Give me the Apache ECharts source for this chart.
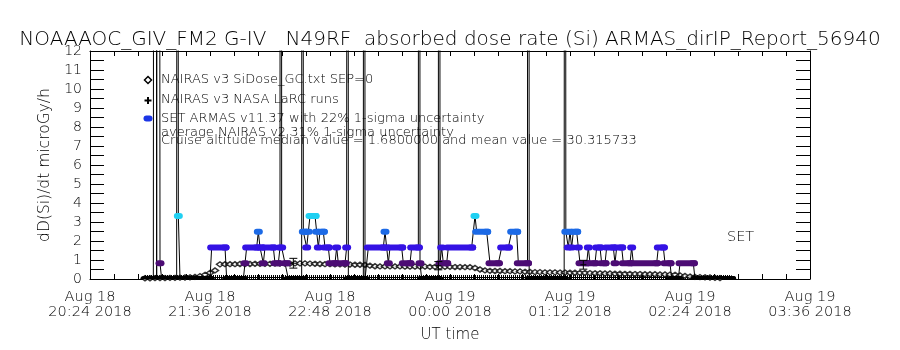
<!DOCTYPE html>
<html><head><meta charset="utf-8">
<script src="https://cdn.jsdelivr.net/npm/echarts@6/dist/echarts.min.js"></script>
<style>html,body{margin:0;padding:0;background:#fff}#c{width:900px;height:350px}</style>
</head><body><div id="c"></div>
<script>
// ---------------- texts ----------------
const titleText = 'NOAAAOC_GIV_FM2 G-IV   N49RF  absorbed dose rate (Si) ARMAS_dirIP_Report_56940';
const yAxisTitle = 'dD(Si)/dt microGy/h';
const xAxisTitle = 'UT time';
const xTickLabels = ['Aug 18\n20:24 2018','Aug 18\n21:36 2018','Aug 18\n22:48 2018','Aug 19\n00:00 2018','Aug 19\n01:12 2018','Aug 19\n02:24 2018','Aug 19\n03:36 2018'];
const yTickLabels = ['0','1','2','3','4','5','6','7','8','9','10','11','12'];
const legendTexts = [
  'NAIRAS v3 SiDose_GC.txt SEP=0',
  'NAIRAS v3 NASA LaRC runs',
  'SET ARMAS v11.37 with 22% 1-sigma uncertainty',
  'average NAIRAS v2 31% 1-sigma uncertainty',
  'Cruise altitude median value = 1.6800000 and mean value = 30.315733'
];
const setLabel = 'SET';

// ---------------- data ----------------
// NAIRAS v3 SiDose (diamonds)
const nairasTime = ['20:57','21:00','21:03','21:06','21:09','21:12','21:15','21:18','21:21','21:24','21:27','21:30','21:33','21:36','21:39','21:42','21:45','21:48','21:51','21:54','21:57','22:00','22:03','22:06','22:09','22:12','22:15','22:18','22:21','22:24','22:27','22:30','22:33','22:36','22:39','22:42','22:45','22:48','22:51','22:54','22:57','23:00','23:03','23:06','23:09','23:12','23:15','23:18','23:21','23:24','23:27','23:30','23:33','23:36','23:39','23:42','23:45','23:48','23:51','23:54','23:57','00:00','00:03','00:06','00:09','00:12','00:15','00:18','00:21','00:24','00:27','00:30','00:33','00:36','00:39','00:42','00:45','00:48','00:51','00:54','00:57','01:00','01:03','01:06','01:09','01:12','01:15','01:18','01:21','01:24','01:27','01:30','01:33','01:36','01:39','01:42','01:45','01:48','01:51','01:54','01:57','02:00','02:03','02:06','02:09','02:12','02:15','02:18','02:21','02:24','02:27','02:30','02:33','02:36','02:39','02:42'];
const nairasDose = [0.04,0.04,0.05,0.05,0.05,0.06,0.06,0.07,0.08,0.09,0.11,0.15,0.22,0.32,0.45,0.77,0.78,0.78,0.78,0.79,0.79,0.79,0.80,0.80,0.80,0.80,0.81,0.81,0.81,0.81,0.82,0.82,0.82,0.81,0.80,0.79,0.78,0.78,0.77,0.77,0.76,0.76,0.75,0.75,0.74,0.70,0.67,0.66,0.66,0.66,0.66,0.66,0.65,0.65,0.65,0.65,0.65,0.64,0.64,0.64,0.64,0.64,0.63,0.63,0.62,0.62,0.58,0.50,0.45,0.43,0.42,0.42,0.41,0.41,0.40,0.40,0.38,0.37,0.36,0.36,0.35,0.35,0.35,0.34,0.34,0.33,0.33,0.32,0.32,0.31,0.30,0.30,0.29,0.29,0.28,0.28,0.27,0.27,0.26,0.26,0.25,0.25,0.25,0.24,0.24,0.23,0.22,0.19,0.16,0.13,0.11,0.10,0.09,0.08,0.06,0.05];

// NAIRAS v3 NASA LaRC runs (+) with average NAIRAS v2 31% 1-sigma uncertainty
const larcTime = ['22:26','23:53','01:20'];
const larcDose = [0.83, 0.70, 0.75];
const larcSigma = 0.31;

// zero-dose sample floor along the flight
const floorTime = ['20:57','02:49'];
const floorDose = [0, 0];

// SET ARMAS v11.37 (values above 12 are off-scale spikes)
const armasTime = ['20:57','21:02','21:03','21:04','21:05','21:06','21:07','21:16','21:16:30','21:17','21:18','21:36','21:37','21:45','21:46','21:56','21:57','21:58','22:04','22:05','22:06','22:07','22:08','22:09','22:14','22:15','22:17','22:18','22:18:30','22:19','22:21','22:22','22:23','22:31','22:31:30','22:32','22:33','22:34','22:35','22:36','22:39','22:40','22:41','22:42','22:44','22:45','22:47','22:48','22:51','22:52','22:53','22:57','22:58','22:58:30','22:59','23:08','23:08:30','23:09','23:11','23:20','23:21','23:22','23:23','23:24','23:31','23:32','23:36','23:37','23:41','23:41:30','23:42','23:43','23:53','23:53:30','23:54','23:55','23:56','23:58','23:59','00:13','00:15','00:16','00:22','00:24','00:29','00:31','00:35','00:37','00:40','00:41','00:46:30','00:47','00:47:30','01:08:30','01:09','01:09:30','01:11','01:12','01:13','01:14','01:16','01:17','01:18','01:22','01:23','01:24','01:27','01:28','01:30','01:31','01:33','01:34','01:38','01:39','01:40','01:43','01:44','01:48','01:49','01:50','02:04','02:05','02:08','02:09','02:12','02:13','02:17','02:18','02:26','02:27','02:49'];
const armasDose = [0,0,150,0,120,0.83,0,0,90,3.32,0,0,1.66,1.66,0,0,0.83,1.66,1.66,2.49,1.66,1.66,0.83,1.66,1.66,0.83,0.83,1.66,200,1.66,0.83,0.83,0,0,110,2.49,2.49,1.66,2.49,3.32,3.32,2.49,1.66,2.49,2.49,1.66,1.66,0.83,0.83,1.66,0.83,0.83,1.66,130,0,0,170,0,1.66,1.66,2.49,1.66,0.83,1.66,1.66,0.83,0.83,1.66,1.66,140,0.83,0,0,160,0.83,1.66,0.83,0.83,1.66,1.66,3.32,2.49,2.49,0.83,0.83,1.66,1.66,2.49,2.49,0.83,0.83,180,0,0,100,2.49,1.66,2.49,1.66,2.49,2.49,1.66,0.83,0.83,1.66,0.83,0.83,1.66,1.66,0.83,0.83,1.66,1.66,0.83,1.66,1.66,0.83,0.83,1.66,0.83,0.83,1.66,1.66,0.83,0.83,0,0,0.83,0.83,0,0];

// ---------------- helpers ----------------
const T0 = 20 * 60 + 24;
function toMin(s) {
  const p = s.split(':'); const h = +p[0], m = +p[1], sec = p.length > 2 ? +p[2] : 0;
  let v = h * 60 + m + sec / 60; if (h < 12) v += 1440; return v - T0;
}
const nairasX = nairasTime.map(toMin);
const larcX = larcTime.map(toMin);
const floorX = floorTime.map(toMin);
const armasX = armasTime.map(toMin);

const FONT = 'DejaVu Sans';
const FW = 200;
function levelColor(v) {
  const k = Math.round(v / 0.83);
  return ['#000000', '#4c0c74', '#3412e4', '#1c6ae6', '#20d0f2'][Math.min(k, 4)];
}

const chart = echarts.init(document.getElementById('c'), null, { renderer: 'canvas' });

const xBase = {
  type: 'value', min: 0, max: 432, interval: 72,
  axisLine: { show: true, onZero: false, lineStyle: { color: '#000', width: 1 } },
  axisTick: { show: true, inside: true, length: 5, lineStyle: { color: '#000' } },
  minorTick: { show: true, splitNumber: 5, length: 5, lineStyle: { color: '#000' } },
  splitLine: { show: false }, minorSplitLine: { show: false }
};
const yBase = {
  type: 'value', min: 0, max: 12, interval: 1,
  axisLine: { show: true, onZero: false, lineStyle: { color: '#000', width: 1 } },
  axisTick: { show: true, inside: true, length: 14, lineStyle: { color: '#000' } },
  minorTick: { show: true, splitNumber: 2, length: 14, lineStyle: { color: '#000' } },
  splitLine: { show: false }, minorSplitLine: { show: false }
};

const txt = (t, x, y, size) => ({ type: 'text', z: 0, x: x, y: y, style: { text: t, fontFamily: FONT, fontWeight: FW, fontSize: size, fill: '#000', verticalAlign: 'middle' } });

const option = {
  animation: false,
  backgroundColor: '#fff',
  title: {
    text: titleText, left: 'center', top: 25,
    textStyle: { fontFamily: FONT, fontSize: 20, fontWeight: FW, color: '#000' }
  },
  grid: { left: 90, right: 90, top: 51, bottom: 71, containLabel: false },
  xAxis: [
    Object.assign({}, xBase, {
      position: 'bottom', name: xAxisTitle, nameLocation: 'middle', nameGap: 49,
      nameTextStyle: { fontFamily: FONT, fontWeight: FW, fontSize: 15, color: '#000' },
      axisLabel: {
        show: true, margin: 11, fontFamily: FONT, fontWeight: FW, fontSize: 14.5, lineHeight: 15, color: '#000',
        formatter: function (v) { return xTickLabels[Math.round(v / 72)] || ''; }
      }
    }),
    Object.assign({}, xBase, { position: 'top', axisLabel: { show: false } })
  ],
  yAxis: [
    Object.assign({}, yBase, {
      position: 'left', name: yAxisTitle, nameLocation: 'middle', nameGap: 34, nameRotate: 90,
      nameTextStyle: { fontFamily: FONT, fontWeight: FW, fontSize: 15.5, color: '#000' },
      axisLabel: {
        show: true, margin: 8, fontFamily: FONT, fontWeight: FW, fontSize: 14, color: '#000',
        formatter: function (v) { return yTickLabels[Math.round(v)] || ''; }
      }
    }),
    Object.assign({}, yBase, { position: 'right', axisLabel: { show: false } })
  ],
  graphic: {
    elements: [
      { type: 'polygon', z: 0, shape: { points: [[148, 76.5], [151.5, 80], [148, 83.5], [144.5, 80]] }, style: { fill: '#fff', stroke: '#000', lineWidth: 1.5 } },
      { type: 'line', z: 0, shape: { x1: 144.5, y1: 100.5, x2: 151.5, y2: 100.5 }, style: { stroke: '#000', lineWidth: 2 } },
      { type: 'line', z: 0, shape: { x1: 148, y1: 97, x2: 148, y2: 104 }, style: { stroke: '#000', lineWidth: 2 } },
      { type: 'rect', z: 0, shape: { x: 143.5, y: 115.5, width: 9, height: 6, r: 3 }, style: { fill: '#1b35e6' } },
      txt(legendTexts[0], 161, 80, 13),
      txt(legendTexts[1], 161, 100, 13),
      txt(legendTexts[2], 161, 119, 13),
      txt(legendTexts[3], 161, 133, 13),
      txt(legendTexts[4], 161, 141, 13),
      txt(setLabel, 727, 237, 14.5)
    ]
  },
  series: [
    { // zero-dose floor band
      type: 'custom', clip: true, z: 2,
      data: floorX.map((x, i) => [x, floorDose[i]]),
      renderItem: function (params, api) {
        if (params.dataIndex !== 0) return null;
        const a = api.coord([floorX[0], floorDose[0]]);
        const b = api.coord([floorX[1], floorDose[1]]);
        return { type: 'group', children: [
          { type: 'line', shape: { x1: a[0], y1: a[1], x2: b[0], y2: b[1] }, style: { stroke: '#000', lineWidth: 8, lineDash: [1, 1] } },
          { type: 'line', shape: { x1: a[0], y1: a[1] - 1.5, x2: b[0], y2: b[1] - 1.5 }, style: { stroke: '#000', lineWidth: 1 } }
        ] };
      }
    },
    { // NAIRAS diamonds
      type: 'scatter', z: 3, symbol: 'diamond', symbolSize: [7, 5],
      itemStyle: { color: '#fff', borderColor: '#000', borderWidth: 1.5 },
      data: nairasX.map((x, i) => [x, nairasDose[i]])
    },
    { // ARMAS connecting line
      type: 'line', z: 4, showSymbol: false, symbol: 'none', clip: true,
      lineStyle: { color: '#000', width: 1 },
      data: armasX.map((x, i) => [x, armasDose[i]])
    },
    { // ARMAS coloured dots
      type: 'custom', clip: true, z: 5,
      data: armasX.map((x, i) => [x, armasDose[i]]),
      renderItem: function (params, api) {
        const i = params.dataIndex;
        const v = armasDose[i];
        if (v > 12) return null;
        const p = api.coord([armasX[i], v]);
        let x1 = p[0] - 4.5, x2 = p[0] + 4.5;
        if (i < armasDose.length - 1 && armasDose[i + 1] === v) {
          const q = api.coord([armasX[i + 1], v]);
          x2 = q[0] + 4.5;
        }
        return { type: 'rect', shape: { x: x1, y: p[1] - 3, width: x2 - x1, height: 6, r: 3 }, style: { fill: levelColor(v) } };
      }
    },
    { // LaRC runs with error bars
      type: 'custom', clip: true, z: 6,
      data: larcX.map((x, i) => [x, larcDose[i]]),
      renderItem: function (params, api) {
        const i = params.dataIndex;
        const v = larcDose[i], x = larcX[i];
        const c = api.coord([x, v]);
        const lo = api.coord([x, v * (1 - larcSigma)]);
        const hi = api.coord([x, v * (1 + larcSigma)]);
        const st = { stroke: '#000', lineWidth: 1 };
        return { type: 'group', children: [
          { type: 'line', shape: { x1: c[0], y1: lo[1], x2: c[0], y2: hi[1] }, style: st },
          { type: 'line', shape: { x1: c[0] - 4, y1: lo[1], x2: c[0] + 4, y2: lo[1] }, style: st },
          { type: 'line', shape: { x1: c[0] - 4, y1: hi[1], x2: c[0] + 4, y2: hi[1] }, style: st },
          { type: 'line', shape: { x1: c[0] - 3, y1: c[1], x2: c[0] + 3, y2: c[1] }, style: st }
        ] };
      }
    }
  ]
};
chart.setOption(option);
</script>
</body></html>
